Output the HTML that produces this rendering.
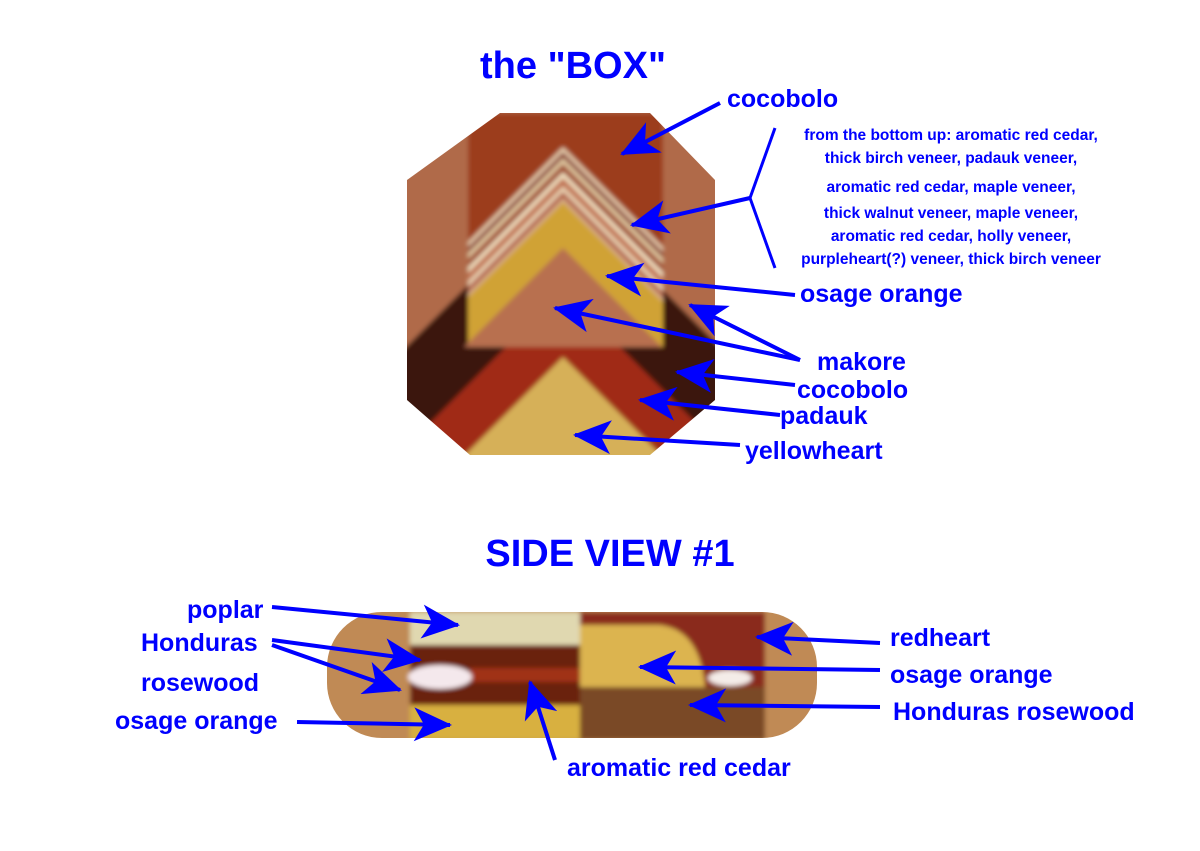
<!DOCTYPE html>
<html><head><meta charset="utf-8"><style>
html,body{margin:0;padding:0;background:#fff;}
svg{display:block;}
text{font-family:"Liberation Sans",sans-serif;fill:#0000ff;}
</style></head><body>
<svg width="1200" height="851" viewBox="0 0 1200 851" xmlns="http://www.w3.org/2000/svg">
<defs>
<marker id="ah" markerUnits="userSpaceOnUse" markerWidth="40" markerHeight="34" refX="38" refY="17" orient="auto" viewBox="0 0 40 34">
<path d="M40,17 L2,0 L12,17 L2,34 Z" fill="#0000ff"/>
</marker>
<clipPath id="oct"><polygon points="500,113 650,113 715,180 715,400 650,455 470,455 407,400 407,180"/></clipPath>
<clipPath id="cyl"><rect x="327" y="612" width="490" height="126" rx="55"/></clipPath>
<filter id="soft"><feGaussianBlur stdDeviation="2.5"/></filter>
</defs>

<!-- BOX -->
<g clip-path="url(#oct)" filter="url(#soft)">
<rect x="400" y="105" width="320" height="360" fill="#b06a48"/>
<polygon points="563,190 900,527 226,527" fill="#3a1410"/>
<polygon points="563,290 900,627 226,627" fill="#a02a18"/>
<polygon points="563,357 680,474 446,474" fill="#d6b058"/>
<rect x="468" y="113" width="195" height="234" fill="#9c3e1a"/>
<g>
<polygon points="563,147 663,247 663,347 468,347 468,242" fill="#e8d0b0"/>
<polygon points="563,152 663,252 663,347 468,347 468,247" fill="#8a4030"/>
<polygon points="563,158 663,258 663,347 468,347 468,253" fill="#e0c8a0"/>
<polygon points="563,164 663,264 663,347 468,347 468,259" fill="#a05030"/>
<polygon points="563,172 663,272 663,347 468,347 468,267" fill="#f0e0c0"/>
<polygon points="563,178 663,278 663,347 468,347 468,273" fill="#c07050"/>
<polygon points="563,186 663,286 663,347 468,347 468,281" fill="#e8d0b0"/>
<polygon points="563,192 663,292 663,347 468,347 468,287" fill="#b05a40"/>
<polygon points="563,198 663,298 663,347 468,347 468,293" fill="#d8b090"/>
<polygon points="563,202 663,302 663,347 468,347 468,297" fill="#d0a234"/>
<polygon points="563,248 662,347 464,347" fill="#b87050"/>
</g>
</g>

<!-- SIDE VIEW -->
<g clip-path="url(#cyl)" filter="url(#soft)">
<rect x="320" y="605" width="505" height="140" fill="#c08a55"/>
<rect x="410" y="612" width="170" height="33" fill="#e0d8b0"/>
<rect x="410" y="645" width="170" height="60" fill="#6a2010"/>
<rect x="470" y="668" width="110" height="14" fill="#a03018"/>
<ellipse cx="440" cy="677" rx="32" ry="12" fill="#f4e8ec"/>
<rect x="410" y="705" width="170" height="35" fill="#d8b040"/>
<rect x="580" y="612" width="185" height="75" fill="#8a2a1a"/>
<path d="M580,625 L660,625 Q700,630 705,687 L580,687 Z" fill="#dcb450"/>
<ellipse cx="730" cy="678" rx="22" ry="8" fill="#f4ece8"/>
<rect x="580" y="687" width="185" height="53" fill="#7a4a28"/>
</g>

<!-- titles -->
<text x="573" y="78" font-size="38" font-weight="bold" text-anchor="middle">the "BOX"</text>
<text x="610" y="566" font-size="38" font-weight="bold" text-anchor="middle">SIDE VIEW #1</text>

<!-- labels -->
<g font-size="25" font-weight="bold">
<text x="727" y="107">cocobolo</text>
<text x="800" y="302">osage orange</text>
<text x="817" y="370">makore</text>
<text x="797" y="398">cocobolo</text>
<text x="780" y="424">padauk</text>
<text x="745" y="459">yellowheart</text>
<text x="187" y="618">poplar</text>
<text x="141" y="651">Honduras</text>
<text x="141" y="691">rosewood</text>
<text x="115" y="729">osage orange</text>
<text x="567" y="776">aromatic red cedar</text>
<text x="890" y="646">redheart</text>
<text x="890" y="683">osage orange</text>
<text x="893" y="720">Honduras rosewood</text>
</g>
<g font-size="15.5" font-weight="bold" text-anchor="middle">
<text x="951" y="140">from the bottom up: aromatic red cedar,</text>
<text x="951" y="163">thick birch veneer, padauk veneer,</text>
<text x="951" y="192">aromatic red cedar, maple veneer,</text>
<text x="951" y="218">thick walnut veneer, maple veneer,</text>
<text x="951" y="241">aromatic red cedar, holly veneer,</text>
<text x="951" y="264">purpleheart(?) veneer, thick birch veneer</text>
</g>

<!-- arrows -->
<g stroke="#0000ff" stroke-width="4" fill="none">
<polyline points="775,128 750,198 775,268" stroke-width="3"/>
<line x1="720" y1="103" x2="622" y2="154" marker-end="url(#ah)"/>
<line x1="750" y1="198" x2="632" y2="225" marker-end="url(#ah)"/>
<line x1="795" y1="295" x2="607" y2="276" marker-end="url(#ah)"/>
<line x1="800" y1="360" x2="555" y2="308" marker-end="url(#ah)"/>
<line x1="800" y1="360" x2="690" y2="305" marker-end="url(#ah)"/>
<line x1="795" y1="385" x2="677" y2="372" marker-end="url(#ah)"/>
<line x1="780" y1="415" x2="640" y2="400" marker-end="url(#ah)"/>
<line x1="740" y1="445" x2="575" y2="435" marker-end="url(#ah)"/>
<line x1="272" y1="607" x2="458" y2="625" marker-end="url(#ah)"/>
<line x1="272" y1="640" x2="420" y2="660" marker-end="url(#ah)"/>
<line x1="272" y1="645" x2="400" y2="690" marker-end="url(#ah)"/>
<line x1="297" y1="722" x2="450" y2="725" marker-end="url(#ah)"/>
<line x1="555" y1="760" x2="530" y2="682" marker-end="url(#ah)"/>
<line x1="880" y1="643" x2="757" y2="637" marker-end="url(#ah)"/>
<line x1="880" y1="670" x2="640" y2="667" marker-end="url(#ah)"/>
<line x1="880" y1="707" x2="690" y2="705" marker-end="url(#ah)"/>
</g>
</svg>
</body></html>
